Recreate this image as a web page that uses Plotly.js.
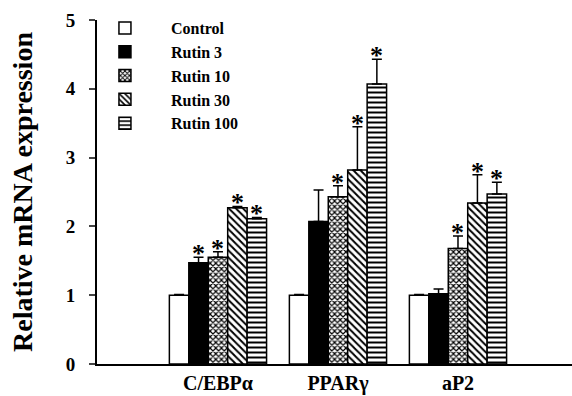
<!DOCTYPE html>
<html>
<head>
<meta charset="utf-8">
<script src="https://cdn.plot.ly/plotly-3.0.1.min.js"></script>
<style>html,body{margin:0;padding:0;background:#fff;}#chart{width:572px;height:396px;}</style>
</head>
<body>
<div id="chart"></div>
<script>
// ---- data ----
const categories = ['C/EBPα', 'PPARγ', 'aP2'];
const seriesNames = ['Control', 'Rutin 3', 'Rutin 10', 'Rutin 30', 'Rutin 100'];
const control   = [1.00, 1.00, 1.00];
const controlErr = [0.01, 0.01, 0.01];
const rutin3    = [1.47, 2.07, 1.02];
const rutin3Err = [0.08, 0.46, 0.07];
const rutin10   = [1.55, 2.43, 1.68];
const rutin10Err = [0.08, 0.16, 0.18];
const rutin30   = [2.27, 2.82, 2.34];
const rutin30Err = [0.02, 0.63, 0.41];
const rutin100  = [2.11, 4.07, 2.47];
const rutin100Err = [0.02, 0.36, 0.17];
const control_sig  = [false, false, false];
const rutin3_sig   = [true, false, false];
const rutin10_sig  = [true, true, true];
const rutin30_sig  = [true, true, true];
const rutin100_sig = [true, true, true];
const yTicks = [0, 1, 2, 3, 4, 5];

// ---- build ----
const values = [control, rutin3, rutin10, rutin30, rutin100];
const errs = [controlErr, rutin3Err, rutin10Err, rutin30Err, rutin100Err];
const sigs = [control_sig, rutin3_sig, rutin10_sig, rutin30_sig, rutin100_sig];
const styles = [
  {color: '#ffffff', pattern: {shape: ''}},
  {color: '#000000', pattern: {shape: ''}},
  {color: '#ffffff', pattern: {shape: 'x', fgcolor: '#000', bgcolor: '#fff', size: 4, solidity: 0.5}},
  {color: '#ffffff', pattern: {shape: '\\', fgcolor: '#000', bgcolor: '#fff', size: 5, solidity: 0.4}},
  {color: '#ffffff', pattern: {shape: '-', fgcolor: '#000', bgcolor: '#fff', size: 5, solidity: 0.4}}
];
const xpos = categories.map((c, i) => i);
const bargap = 0.19;
const nS = seriesNames.length;
const bw = (1 - bargap) / nS;
const font = 'Times New Roman';

const traces = seriesNames.map((name, s) => ({
  type: 'bar',
  name: name,
  x: xpos,
  y: values[s],
  marker: {color: styles[s].color, pattern: styles[s].pattern, line: {color: '#000', width: 1.5}},
  error_y: {type: 'data', symmetric: false, array: errs[s], arrayminus: errs[s].map(() => 0),
            color: '#000', thickness: 1.5, width: 5},
  hoverinfo: 'skip'
}));

const annotations = [];
sigs.forEach((sg, s) => {
  sg.forEach((flag, g) => {
    if (!flag) return;
    annotations.push({
      x: xpos[g] + (s - (nS - 1) / 2) * bw,
      y: values[s][g] + errs[s][g],
      xref: 'x', yref: 'y', text: '*', showarrow: false,
      yanchor: 'bottom', yshift: -13,
      font: {family: font, size: 26, color: '#000', weight: 'bold'}
    });
  });
});

const layout = {
  width: 572, height: 396,
  margin: {l: 97, r: 0, t: 20, b: 32},
  paper_bgcolor: '#fff', plot_bgcolor: '#fff',
  barmode: 'group', bargap: bargap, bargroupgap: 0,
  showlegend: true,
  legend: {x: -0.038, y: 1.026, xanchor: 'left', yanchor: 'top', bgcolor: 'rgba(0,0,0,0)',
           font: {family: font, size: 16, color: '#000', weight: 'bold'},
           itemwidth: 82, tracegroupgap: 0},
  xaxis: {
    range: [-1.008, 2.95], tickvals: xpos, ticktext: categories,
    showline: true, linewidth: 2, linecolor: '#000', ticks: '', showgrid: false, zeroline: false,
    tickfont: {family: font, size: 20, color: '#000', weight: 'bold'}
  },
  yaxis: {
    range: [0, 5], tickvals: yTicks,
    showline: true, linewidth: 2, linecolor: '#000', ticks: 'outside', ticklen: 6, tickwidth: 2,
    showgrid: false, zeroline: false, ticklabelstandoff: 10,
    tickfont: {family: font, size: 19, color: '#000', weight: 'bold'},
    title: {text: 'Relative mRNA expression', font: {family: font, size: 28, color: '#000', weight: 'bold'}, standoff: 25}
  },
  annotations: annotations
};

Plotly.newPlot('chart', traces, layout, {displayModeBar: false, staticPlot: true});
</script>
</body>
</html>
